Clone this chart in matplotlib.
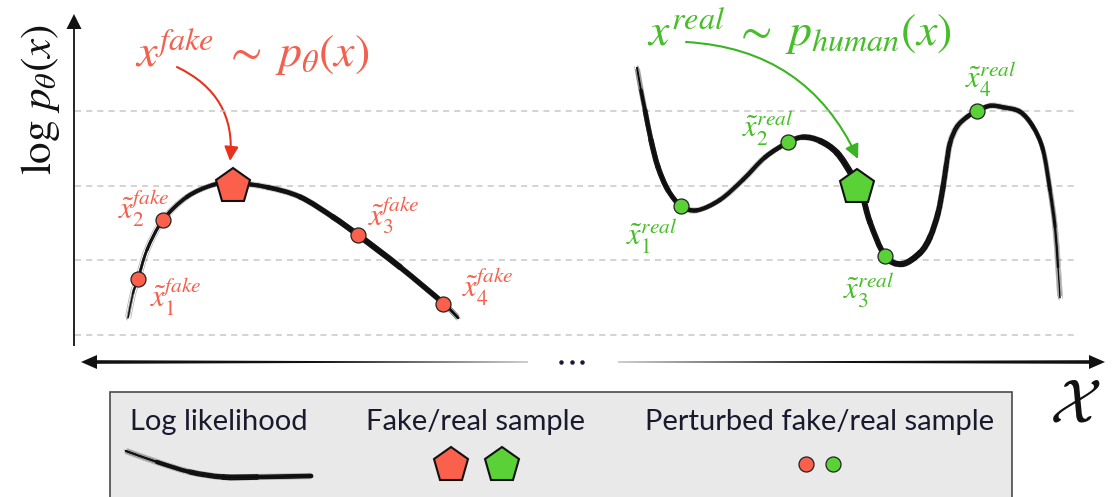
import numpy as np
import matplotlib
matplotlib.use("Agg")
import matplotlib.pyplot as plt
from matplotlib.path import Path
from matplotlib.patches import PathPatch, FancyArrowPatch, Rectangle, Polygon
import matplotlib.transforms as mtransforms

# ---------------- data (x position, log-likelihood level) ----------------
grid_levels = [0, 1, 2, 3]

fake_curve_x = [128, 133, 138, 147, 163, 187, 213, 233, 267, 300, 333, 358, 400, 443, 458]
fake_curve_y = [0.23, 0.56, 0.75, 1.14, 1.54, 1.85, 2.01, 2.04, 1.98, 1.85, 1.58, 1.34, 0.91, 0.43, 0.23]

real_curve_x = [637, 641, 645, 651, 658, 668, 681, 697, 720, 743, 765, 788, 803, 820, 837,
                852, 862, 870, 885, 902, 920, 930, 938, 943, 946, 950, 957, 967, 977, 990,
                1003, 1020, 1033, 1043, 1050, 1055, 1058, 1060]
real_curve_y = [3.58, 3.28, 3.01, 2.61, 2.25, 1.94, 1.73, 1.67, 1.81, 2.08, 2.38, 2.58, 2.65, 2.60, 2.44,
                2.14, 1.88, 1.51, 1.06, 0.95, 1.10, 1.31, 1.63, 1.98, 2.25, 2.57, 2.79, 2.92, 3.00, 3.07,
                3.05, 2.99, 2.79, 2.48, 1.94, 1.45, 0.91, 0.50]

fake_sample_x, fake_sample_y = [233], [1.99]
real_sample_x, real_sample_y = [857], [1.98]

fake_pert_x = [138, 163, 358, 443]
fake_pert_y = [0.75, 1.54, 1.34, 0.42]
real_pert_x = [681, 788, 885, 977]
real_pert_y = [1.73, 2.58, 1.06, 3.00]

fake_labels = [r"$\tilde{x}_1^{fake}$", r"$\tilde{x}_2^{fake}$", r"$\tilde{x}_3^{fake}$", r"$\tilde{x}_4^{fake}$"]
real_labels = [r"$\tilde{x}_1^{real}$", r"$\tilde{x}_2^{real}$", r"$\tilde{x}_3^{real}$", r"$\tilde{x}_4^{real}$"]

title_fake = r"$x^{fake}\;\sim\; p_{\theta}(x)$"
title_real = r"$x^{real}\;\sim\; p_{human}(x)$"
ylabel_text = r"$\log\, p_{\theta}(x)$"
xlabel_text = r"$\mathcal{X}$"
legend_labels = ["Log likelihood", "Fake/real sample", "Perturbed fake/real sample"]

# ---------------- styles ----------------
RED = "#fb604c"
GREEN = "#5ad237"
RED_TXT = "#f4604e"
GREEN_TXT = "#46be28"
RED_ARROW = "#e8321e"
GREEN_ARROW = "#3ab522"

fake_widths = [1.2, 2.0, 2.5, 3.0, 3.5, 4.0, 4.2, 4.2, 4.5, 5.0, 5.5, 6.0, 6.2, 4.5, 1.2]
real_widths = [1.2, 3.0, 4.4, 5.2, 5.6, 5.2, 4.7, 4.4, 4.1, 4.1, 4.4, 4.7, 5.2, 6.0, 6.5,
               6.5, 6.0, 5.7, 5.7, 6.2, 6.2, 5.7, 5.5, 5.2, 5.0, 4.7, 4.5, 4.5, 4.5, 4.5,
               4.5, 4.5, 4.2, 4.0, 3.5, 2.8, 2.0, 1.0]
fake_label_off = [(12, -17.5, "left"), (7, 12, "right"), (10, 20, "left"), (19, 17, "left")]
real_label_off = [(-4, -29.5, "right"), (5, 14.5, "right"), (9, -34, "right"), (-12, 32.5, "left")]

W, H, DPI = 1119, 497, 100
PX = 72.0 / DPI  # points per pixel

fig = plt.figure(figsize=(W / DPI, H / DPI), dpi=DPI)

# decoration layer in pixel space
deco = fig.add_axes([0, 0, 1, 1], zorder=0)
deco.set_xlim(0, W)
deco.set_ylim(H, 0)
deco.axis("off")

# data layer: level 0 at pixel 335, level 3 at pixel 111
ax = fig.add_axes([0, 0, 1, 1], zorder=1)
ppl = (335 - 111) / 3.0
ax.set_xlim(0, W)
ax.set_ylim((335 - H) / ppl, 335 / ppl)
ax.axis("off")
ax.patch.set_alpha(0)


def bezier_segments(xs, ys):
    P = np.column_stack([xs, ys]).astype(float)
    n = len(P)
    out = []
    for i in range(n - 1):
        p0 = P[max(i - 1, 0)]
        p1 = P[i]
        p2 = P[i + 1]
        p3 = P[min(i + 2, n - 1)]
        out.append(np.array([p1, p1 + (p2 - p0) / 6.0, p2 - (p3 - p1) / 6.0, p2]))
    return out


def brush(a, xs, ys, widths_px, zorder=3):
    segs = bezier_segments(xs, ys)
    codes = [Path.MOVETO, Path.CURVE4, Path.CURVE4, Path.CURVE4]
    for i, s in enumerate(segs):
        w = 0.5 * (widths_px[i] + widths_px[i + 1]) * PX
        a.add_patch(PathPatch(Path(s, codes), fill=False, lw=w, ec="#0d0d0d",
                              capstyle="round", joinstyle="round", zorder=zorder))
    verts = np.vstack([segs[0][:1]] + [s[1:] for s in segs])
    pcodes = [Path.MOVETO] + [Path.CURVE4] * (3 * len(segs))
    path = Path(verts, pcodes)
    for dx, dy, al in [(1.1, 1.1, 0.6), (-1.1, -1.1, 0.6), (1.9, -0.8, 0.4),
                       (-1.8, 0.9, 0.4), (0.4, 2.0, 0.3), (-0.5, -2.0, 0.3)]:
        tr = a.transData + mtransforms.ScaledTranslation(dx / 72, dy / 72, fig.dpi_scale_trans)
        a.add_patch(PathPatch(path, fill=False, lw=0.45, ec="#222222", alpha=al,
                              transform=tr, zorder=zorder))


# grid lines
ax.hlines(grid_levels, 75, 1077, colors="#c8c8c8", lw=1.1, linestyles=(0, (4.0, 3.3)), zorder=1)

# curves
brush(ax, fake_curve_x, fake_curve_y, fake_widths)
brush(ax, real_curve_x, real_curve_y, real_widths)

# samples
ax.plot(fake_pert_x, fake_pert_y, "o", ms=15 * PX, mfc=RED, mec="#222222", mew=0.9, zorder=6)
ax.plot(real_pert_x, real_pert_y, "o", ms=15 * PX, mfc=GREEN, mec="#222222", mew=0.9, zorder=6)
ax.plot(fake_sample_x, fake_sample_y, "p", ms=36 * PX, mfc=RED, mec="#111111", mew=1.5, zorder=7)
ax.plot(real_sample_x, real_sample_y, "p", ms=36 * PX, mfc=GREEN, mec="#111111", mew=1.5, zorder=7)

for x, y, lab, (dx, dy, ha) in zip(fake_pert_x, fake_pert_y, fake_labels, fake_label_off):
    ax.annotate(lab, (x, y), xytext=(dx, dy), textcoords="offset pixels", ha=ha, va="center",
                fontsize=22, color=RED_TXT, math_fontfamily="stix", zorder=8)
for x, y, lab, (dx, dy, ha) in zip(real_pert_x, real_pert_y, real_labels, real_label_off):
    ax.annotate(lab, (x, y), xytext=(dx, dy), textcoords="offset pixels", ha=ha, va="center",
                fontsize=22, color=GREEN_TXT, math_fontfamily="stix", zorder=8)

# titles
deco.text(135, 68, title_fake, fontsize=33, color=RED_TXT, ha="left", va="baseline", math_fontfamily="stix")
deco.text(647, 47, title_real, fontsize=33, color=GREEN_TXT, ha="left", va="baseline", math_fontfamily="stix")

# curved arrows
deco.add_patch(FancyArrowPatch((177, 67), (230, 161), connectionstyle="arc3,rad=-0.35",
                               arrowstyle="-|>,head_length=8.5,head_width=4.2", mutation_scale=1,
                               lw=1.5, color=RED_ARROW, shrinkA=0, shrinkB=0, zorder=5))
deco.add_patch(FancyArrowPatch((686, 42), (858, 159), connectionstyle="arc3,rad=-0.3",
                               arrowstyle="-|>,head_length=8.5,head_width=4.2", mutation_scale=1,
                               lw=1.5, color=GREEN_ARROW, shrinkA=0, shrinkB=0, zorder=5))

# y axis
deco.plot([74, 74], [346, 26], color="#111111", lw=1.3, solid_capstyle="butt")
deco.add_patch(Polygon([(66.5, 29), (81.5, 29), (74, 14)], closed=True, fc="#111111", ec="none"))
deco.text(41, 100, ylabel_text, rotation=90, fontsize=31, ha="center", va="center",
          math_fontfamily="stix", color="#111111")

# x axis (two brush segments with arrows, dots between)
deco.add_patch(Polygon([(96, 360.2), (528, 361.8), (528, 362.2), (96, 363.8)], closed=True,
                       fc="#111111", ec="none"))
deco.add_patch(Polygon([(618, 361.8), (1090, 360.2), (1090, 363.8), (618, 362.2)], closed=True,
                       fc="#111111", ec="none"))
deco.add_patch(Polygon([(81, 362), (97, 355), (97, 369)], closed=True, fc="#111111", ec="none"))
deco.add_patch(Polygon([(1105, 362), (1089, 355), (1089, 369)], closed=True, fc="#111111", ec="none"))
deco.plot([561, 572, 582], [362, 362, 362], "o", ms=4.5 * PX, color="#1a1a3a", mec="none")
deco.text(1075, 406, xlabel_text, fontsize=44, ha="center", va="center", math_fontfamily="cm", color="#111111")

# legend box
deco.add_patch(Rectangle((110, 392), 902, 130, fc="#e9e9e9", ec="#4a4a4a", lw=1.2, zorder=1))
for cx, lab in zip([218.5, 476, 820], legend_labels):
    deco.text(cx, 430, lab, fontsize=21, family="Lato", fontweight="normal", ha="center",
              va="baseline", color="#1a1a2e", zorder=3)
brush(deco, [126, 157, 190, 223, 257, 311], [451, 462, 472, 477, 477, 476],
      [1.5, 3.5, 5.0, 5.5, 6.0, 3.5], zorder=3)
deco.plot([451], [465], "p", ms=36 * PX, mfc=RED, mec="#111111", mew=1.5, zorder=3)
deco.plot([502], [465], "p", ms=36 * PX, mfc=GREEN, mec="#111111", mew=1.5, zorder=3)
deco.plot([806], [464], "o", ms=15 * PX, mfc=RED, mec="#222222", mew=0.9, zorder=3)
deco.plot([833], [464], "o", ms=15 * PX, mfc=GREEN, mec="#222222", mew=0.9, zorder=3)

fig.savefig("out.png", dpi=DPI)
